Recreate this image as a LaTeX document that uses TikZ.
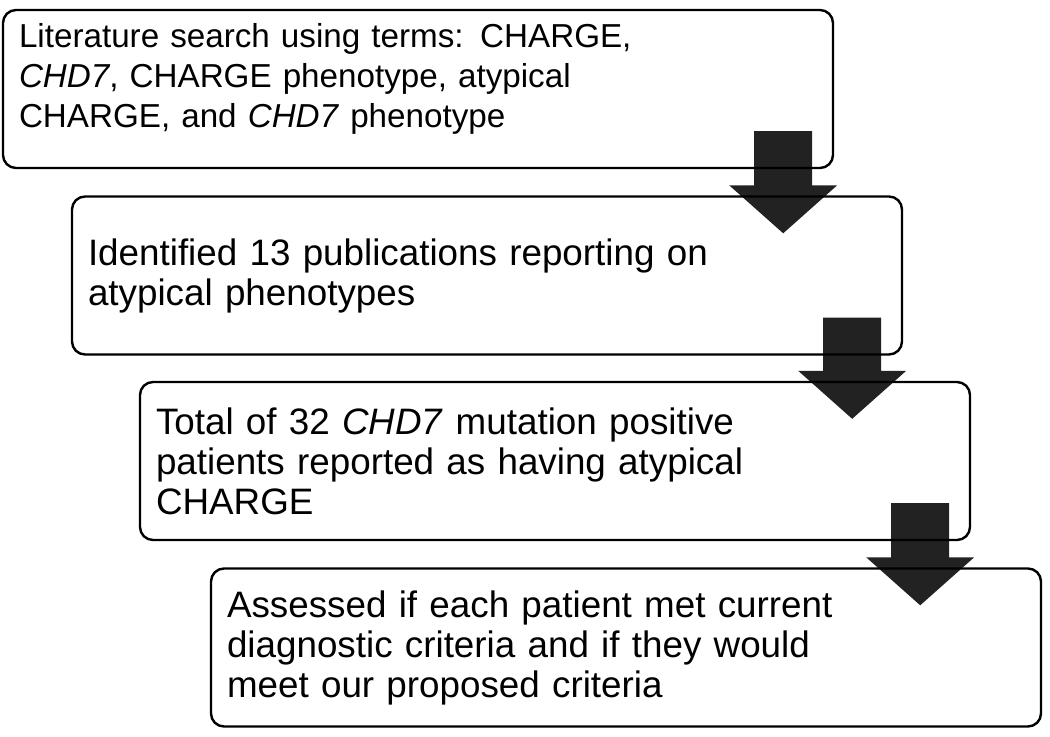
\documentclass[tikz,border=0pt]{standalone}
\usepackage{fontspec}
\setmainfont{Liberation Sans}
\usetikzlibrary{calc}
\definecolor{arrowgray}{RGB}{34, 34, 34}
\pgfdeclarelayer{background}
\pgfsetlayers{background,main}
\tikzset{
    stepbox/.style={draw, line width=1.2pt, rounded corners=6.5pt,
        minimum width=415pt, minimum height=79pt, text width=399pt,
        inner xsep=8pt, align=left,
        font=\fontsize{18.4pt}{20pt}\selectfont},
    smalltext/.style={font=\fontsize{16.6pt}{20pt}\selectfont},
    blockarrow/.style={fill=arrowgray}
}

\begin{document}
\begin{tikzpicture}[x=0.5pt, y=-0.5pt]
    \useasboundingbox (0, 0) rectangle (1050, 737);
	\node[stepbox, smalltext] (search) at (418, 89) {Literature search
        using terms: CHARGE,\\ \textit{CHD7}, CHARGE phenotype, atypical\\
        CHARGE, and \textit{CHD7} phenotype\\[-6pt]\mbox{}};
    \node[stepbox] (found) at (487, 275.5) {Identified 13 publications
        reporting on\\ atypical phenotypes};
    \node[stepbox] (total) at (555, 461) {Total of 32 \textit{CHD7} mutation
        positive\\ patients reported as having atypical\\ CHARGE};
    \node[stepbox] (assess) at (626, 647.5) {Assessed if each patient met
        current\\ diagnostic criteria and if they would\\ meet our proposed
        criteria};

    \begin{pgfonlayer}{background}
    \fill[white] (0, 0) rectangle (1050, 737);
    \foreach \a/\b in {search/found, found/total, total/assess}
        \fill[blockarrow] let \p1 = (\a.south east), \p2 = (\b.north) in
            (\x1-40pt, \y1+19pt) -- (\x1-11pt, \y1+19pt)
            -- (\x1-11pt, \y2+5pt) -- (\x1+1.5pt, \y2+5pt)
            -- (\x1-25.5pt, \y2-19pt) -- (\x1-52.5pt, \y2+5pt)
            -- (\x1-40pt, \y2+5pt) -- cycle;
    \end{pgfonlayer}
\end{tikzpicture}
\end{document}
